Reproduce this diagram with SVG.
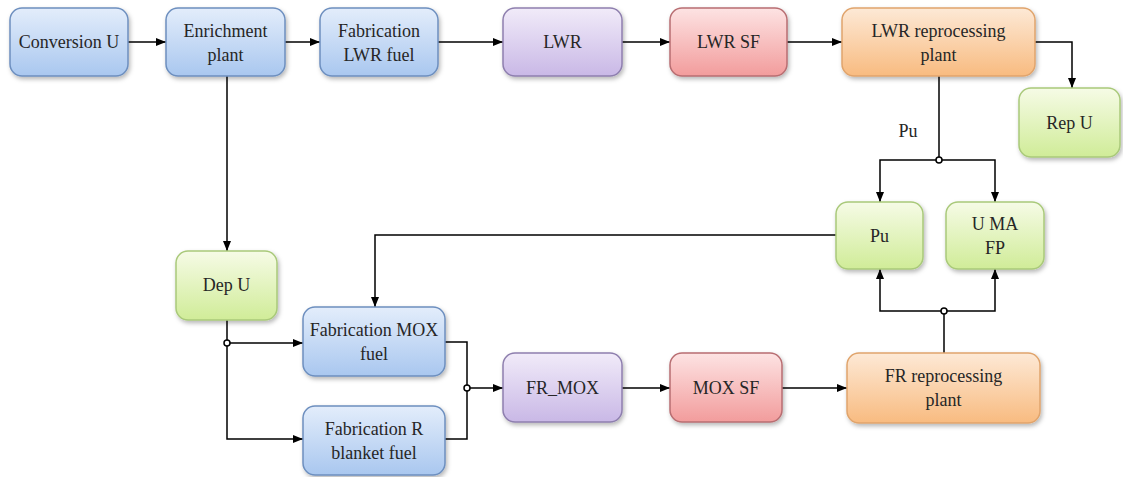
<svg xmlns="http://www.w3.org/2000/svg" width="1123" height="477" viewBox="0 0 1123 477" font-family="'Liberation Serif', 'Times New Roman', serif" font-size="18">
<defs>
<linearGradient id="gBlue" x1="0" y1="0" x2="0" y2="1"><stop offset="0" stop-color="#e3edfb"/><stop offset="1" stop-color="#a9c7ef"/></linearGradient>
<linearGradient id="gPurple" x1="0" y1="0" x2="0" y2="1"><stop offset="0" stop-color="#f1ebf9"/><stop offset="1" stop-color="#c9b8e6"/></linearGradient>
<linearGradient id="gRed" x1="0" y1="0" x2="0" y2="1"><stop offset="0" stop-color="#fde3e3"/><stop offset="1" stop-color="#f29c9c"/></linearGradient>
<linearGradient id="gOrange" x1="0" y1="0" x2="0" y2="1"><stop offset="0" stop-color="#fde9d6"/><stop offset="1" stop-color="#f8bb80"/></linearGradient>
<linearGradient id="gGreen" x1="0" y1="0" x2="0" y2="1"><stop offset="0" stop-color="#f6fbe6"/><stop offset="1" stop-color="#d0ec98"/></linearGradient>
<filter id="sh" x="-10%" y="-10%" width="125%" height="130%"><feDropShadow dx="1.5" dy="2.5" stdDeviation="2" flood-color="#000" flood-opacity="0.28"/></filter>
<marker id="arr" viewBox="0 0 10 10" refX="10" refY="5" markerWidth="10" markerHeight="10" markerUnits="userSpaceOnUse" orient="auto"><path d="M0,1 L10,5 L0,9 z" fill="#000"/></marker>
<style>
.n rect{rx:12px;ry:12px;stroke-width:1.5px;filter:url(#sh)}
.blue rect{fill:url(#gBlue);stroke:#6d8fbf}
.purple rect{fill:url(#gPurple);stroke:#8e7fae}
.red rect{fill:url(#gRed);stroke:#b86e72}
.orange rect{fill:url(#gOrange);stroke:#e0a46c}
.green rect{fill:url(#gGreen);stroke:#a9c97a}
text{font-family:'Liberation Serif','Times New Roman',serif;font-size:18px;fill:#262626;text-anchor:middle}
.c path{fill:none;stroke:#000;stroke-width:1.5px}
.c .a{marker-end:url(#arr)}
.c circle{fill:#fff;stroke:#000;stroke-width:1.5px}
</style>
</defs>
<rect width="1123" height="477" fill="#fff"/>

<g id="connectors" class="c">
<path class="a" d="M128,42 H166"/>
<path class="a" d="M285,42 H320"/>
<path class="a" d="M438,42 H503"/>
<path class="a" d="M622,42 H670"/>
<path class="a" d="M787,42 H842"/>
<path class="a" d="M1035,42 H1072 V88"/>
<path d="M939,76 V160"/>
<path class="a" d="M939,160 H880 V202"/>
<path class="a" d="M939,160 H995 V202"/>
<path d="M944,353 V311"/>
<path class="a" d="M944,311 H880 V269"/>
<path class="a" d="M944,311 H995 V269"/>
<path class="a" d="M836,235 H375 V307"/>
<path class="a" d="M227,76 V251"/>
<path d="M227,320 V343"/>
<path class="a" d="M227,343 H303"/>
<path class="a" d="M227,343 V439 H303"/>
<path d="M445,342 H467 V439 H445"/>
<path class="a" d="M467,388 H503"/>
<path class="a" d="M622,388 H670"/>
<path class="a" d="M782,388 H847"/>
<circle cx="939" cy="160" r="3"/>
<circle cx="944" cy="311" r="3"/>
<circle cx="227" cy="343" r="3"/>
<circle cx="467" cy="388" r="3"/>
<text x="908" y="137">Pu</text>
</g>

<g id="conversion-u" class="n blue"><rect x="10" y="8" width="118" height="68"/><text x="69" y="48">Conversion U</text></g>
<g id="enrichment-plant" class="n blue"><rect x="166" y="8" width="119" height="68"/><text x="225.5" y="37">Enrichment</text><text x="225.5" y="61">plant</text></g>
<g id="fabrication-lwr-fuel" class="n blue"><rect x="320" y="8" width="118" height="68"/><text x="379" y="37">Fabrication</text><text x="379" y="61">LWR fuel</text></g>
<g id="lwr" class="n purple"><rect x="503" y="8" width="119" height="68"/><text x="562.5" y="48">LWR</text></g>
<g id="lwr-sf" class="n red"><rect x="670" y="8" width="117" height="68"/><text x="728.5" y="48">LWR SF</text></g>
<g id="lwr-reprocessing-plant" class="n orange"><rect x="842" y="8" width="193" height="68"/><text x="938.5" y="37">LWR reprocessing</text><text x="938.5" y="61">plant</text></g>
<g id="rep-u" class="n green"><rect x="1019" y="88" width="101" height="69"/><text x="1069.5" y="129">Rep U</text></g>
<g id="pu" class="n green"><rect x="836" y="202" width="87" height="67"/><text x="879.5" y="242">Pu</text></g>
<g id="u-ma-fp" class="n green"><rect x="946" y="202" width="98" height="67"/><text x="995" y="230">U MA</text><text x="995" y="254">FP</text></g>
<g id="dep-u" class="n green"><rect x="176" y="251" width="101" height="69"/><text x="226.5" y="291">Dep U</text></g>
<g id="fabrication-mox-fuel" class="n blue"><rect x="303" y="307" width="142" height="69"/><text x="374" y="336">Fabrication MOX</text><text x="374" y="360">fuel</text></g>
<g id="fabrication-r-blanket-fuel" class="n blue"><rect x="303" y="406" width="142" height="69"/><text x="374" y="435">Fabrication R</text><text x="374" y="459">blanket fuel</text></g>
<g id="fr-mox" class="n purple"><rect x="503" y="353" width="119" height="69"/><text x="562.5" y="394">FR_MOX</text></g>
<g id="mox-sf" class="n red"><rect x="670" y="353" width="112" height="69"/><text x="726" y="394">MOX SF</text></g>
<g id="fr-reprocessing-plant" class="n orange"><rect x="847" y="353" width="193" height="70"/><text x="943.5" y="382">FR reprocessing</text><text x="943.5" y="406">plant</text></g>
</svg>
